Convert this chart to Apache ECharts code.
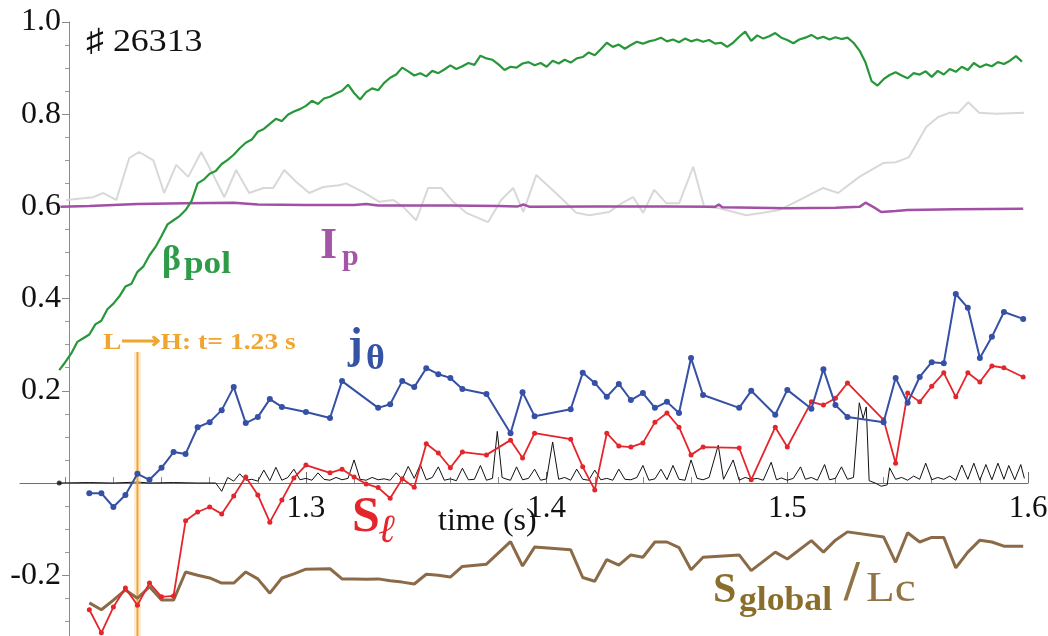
<!DOCTYPE html>
<html>
<head>
<meta charset="utf-8">
<script src="https://cdn.jsdelivr.net/npm/echarts@6.0.0/dist/echarts.min.js"></script>
<style>
  html, body { margin: 0; background: #fff; }
  #chart { width: 1048px; height: 636px; }
</style>
</head>
<body>
<div id="chart"></div>
<script>
// ---- data ----
const X_TICKS = [1.3, 1.4, 1.5, 1.6]
const X_MINOR = [1.2, 1.22, 1.24, 1.26, 1.28, 1.32, 1.34, 1.36, 1.38, 1.42, 1.44, 1.46, 1.48, 1.52, 1.54, 1.56, 1.58]

// beta_pol, sampled every 2.5 ms from 1.1975 s
const BETA_T0 = 1.1975
const BETA_DT = 0.0025
const betaPol = [
  0.245, 0.262, 0.281, 0.306, 0.314, 0.322, 0.344, 0.352, 0.377, 0.389,
  0.405, 0.426, 0.432, 0.458, 0.470, 0.494, 0.512, 0.536, 0.561, 0.570,
  0.579, 0.592, 0.612, 0.650, 0.658, 0.671, 0.677, 0.692, 0.701, 0.712,
  0.726, 0.738, 0.745, 0.762, 0.768, 0.779, 0.790, 0.785, 0.799, 0.806,
  0.811, 0.818, 0.829, 0.822, 0.834, 0.838, 0.845, 0.851, 0.864, 0.846,
  0.832, 0.848, 0.856, 0.852, 0.868, 0.879, 0.886, 0.901, 0.893, 0.884,
  0.889, 0.882, 0.894, 0.889, 0.897, 0.906, 0.898, 0.904, 0.911, 0.907,
  0.927, 0.921, 0.918, 0.908, 0.896, 0.903, 0.901, 0.910, 0.913, 0.906,
  0.911, 0.903, 0.916, 0.910, 0.918, 0.912, 0.921, 0.924, 0.934, 0.928,
  0.941, 0.955, 0.946, 0.951, 0.942, 0.950, 0.957, 0.953, 0.958, 0.961,
  0.966, 0.958, 0.962, 0.956, 0.964, 0.958, 0.962, 0.957, 0.961, 0.953,
  0.955, 0.946, 0.955, 0.968, 0.979, 0.959, 0.971, 0.964, 0.969, 0.976,
  0.966, 0.961, 0.954, 0.962, 0.966, 0.972, 0.964, 0.968, 0.962, 0.967,
  0.963, 0.966, 0.955, 0.938, 0.912, 0.872, 0.862, 0.876, 0.885, 0.891,
  0.884, 0.878, 0.889, 0.886, 0.893, 0.881, 0.894, 0.886, 0.898, 0.892,
  0.903, 0.896, 0.911, 0.902, 0.908, 0.904, 0.913, 0.909, 0.916, 0.926,
  0.914
]

// light grey trace
const greyT = [1.2004, 1.2116, 1.2158, 1.2212, 1.2266, 1.2307, 1.2366, 1.2411, 1.2461, 1.2511,
  1.2565, 1.2615, 1.2661, 1.271, 1.2764, 1.2823, 1.2864, 1.291, 1.296, 1.3014,
  1.3072, 1.3138, 1.3167, 1.3238, 1.3305, 1.3363, 1.3404, 1.3458, 1.3508, 1.3562,
  1.3612, 1.3666, 1.3757, 1.3811, 1.3861, 1.3903, 1.3957, 1.4011, 1.4069, 1.4123,
  1.4177, 1.426, 1.4322, 1.436, 1.4401, 1.4447, 1.4497, 1.4551, 1.4609, 1.4655,
  1.4717, 1.4829, 1.49, 1.4966, 1.5025, 1.5149, 1.5211, 1.5299, 1.5398, 1.5452,
  1.5506, 1.5577, 1.5627, 1.5673, 1.571, 1.5752, 1.5797, 1.5868, 1.5984]
const greyV = [0.614, 0.620, 0.629, 0.614, 0.705, 0.718, 0.700, 0.629, 0.690, 0.664,
  0.718, 0.668, 0.620, 0.679, 0.629, 0.640, 0.640, 0.679, 0.653, 0.629,
  0.642, 0.646, 0.650, 0.631, 0.610, 0.614, 0.599, 0.570, 0.640, 0.640,
  0.610, 0.586, 0.566, 0.614, 0.640, 0.588, 0.668, 0.642, 0.614, 0.586,
  0.581, 0.588, 0.610, 0.620, 0.586, 0.636, 0.607, 0.607, 0.686, 0.599,
  0.596, 0.581, 0.586, 0.592, 0.607, 0.640, 0.629, 0.664, 0.694, 0.696,
  0.707, 0.772, 0.794, 0.803, 0.803, 0.826, 0.803, 0.801, 0.803]

// plasma current Ip
const ipT = [1.198, 1.21, 1.22, 1.23, 1.25, 1.27, 1.28, 1.30, 1.32, 1.325, 1.33, 1.36, 1.38, 1.388,
  1.3905, 1.393, 1.42, 1.45, 1.47, 1.4715, 1.473, 1.50, 1.52, 1.53, 1.5325, 1.536, 1.539,
  1.545, 1.55, 1.57, 1.598]
const ipV = [0.599, 0.601, 0.603, 0.605, 0.607, 0.608, 0.604, 0.603, 0.603, 0.605, 0.602, 0.602, 0.601, 0.600,
  0.604, 0.599, 0.600, 0.600, 0.599, 0.604, 0.598, 0.596, 0.597, 0.599, 0.608, 0.598, 0.588,
  0.590, 0.592, 0.594, 0.595]

// profile times shared by j_theta, S_l and S_global/Lc
const profT = [1.21, 1.215, 1.22, 1.225, 1.23, 1.235, 1.24, 1.245, 1.25, 1.255,
  1.26, 1.265, 1.27, 1.275, 1.28, 1.285, 1.29, 1.295, 1.30, 1.31,
  1.315, 1.32, 1.325, 1.33, 1.335, 1.34, 1.345, 1.35, 1.355, 1.36,
  1.365, 1.375, 1.385, 1.39, 1.395, 1.41, 1.415, 1.42, 1.425, 1.43,
  1.435, 1.44, 1.445, 1.45, 1.455, 1.46, 1.465, 1.48, 1.485, 1.495,
  1.50, 1.51, 1.515, 1.52, 1.525, 1.54, 1.545, 1.55, 1.555, 1.56,
  1.565, 1.57, 1.575, 1.58, 1.585, 1.59, 1.598]
const jTheta = [-0.022, -0.022, -0.052, -0.026, 0.020, 0.007, 0.033, 0.067, 0.063, 0.121,
  0.132, 0.158, 0.208, 0.130, 0.143, 0.182, 0.165, null, 0.154, 0.141,
  0.221, null, null, 0.163, 0.171, 0.221, 0.208, 0.249, 0.236, 0.228,
  0.204, 0.193, 0.108, 0.197, 0.145, 0.160, 0.239, 0.217, 0.187, 0.215,
  0.180, 0.195, 0.163, 0.176, 0.152, 0.271, 0.191, 0.163, 0.200, 0.148,
  0.202, 0.161, 0.247, 0.169, 0.143, 0.132, 0.228, 0.174, 0.230, 0.262,
  0.260, 0.410, 0.380, 0.271, 0.317, 0.371, 0.356]
const sLocal = [-0.275, -0.325, -0.269, -0.228, -0.265, -0.217, -0.247, -0.245, -0.082, -0.063,
  -0.052, -0.067, -0.028, 0.013, -0.026, -0.085, -0.037, 0.011, 0.039, 0.022,
  0.030, 0.013, -0.002, -0.010, -0.033, 0.009, -0.009, 0.085, 0.065, 0.033,
  0.067, 0.061, 0.093, 0.054, 0.108, 0.095, 0.035, -0.015, 0.108, 0.080,
  0.078, 0.087, 0.132, 0.152, 0.121, 0.061, 0.078, 0.076, 0.007, 0.121,
  0.078, 0.176, 0.169, 0.184, 0.217, 0.137, 0.043, 0.195, 0.176, 0.210,
  0.239, 0.187, 0.239, 0.219, 0.254, 0.250, 0.230]
const sGlobal = [-0.260, -0.275, -0.254, -0.232, -0.250, -0.225, -0.254, -0.254, -0.193, -0.200,
  -0.206, -0.217, -0.217, -0.193, -0.208, -0.239, -0.206, -0.197, -0.187, -0.186,
  -0.208, -0.208, -0.209, -0.208, -0.212, -0.215, -0.219, -0.198, -0.200, -0.204,
  -0.181, -0.176, -0.127, -0.180, -0.139, -0.145, -0.205, -0.213, -0.166, -0.178,
  -0.156, -0.161, -0.128, -0.128, -0.140, -0.188, -0.161, -0.156, -0.190, -0.150,
  -0.165, -0.125, -0.150, -0.124, -0.106, -0.117, -0.172, -0.108, -0.128, -0.118,
  -0.118, -0.184, -0.150, -0.124, -0.128, -0.137, -0.137]

// thin black trace near zero
const blackT = [1.1975, 1.21, 1.22, 1.23, 1.235, 1.245, 1.255, 1.2625, 1.265, 1.2675,
  1.27, 1.2725, 1.275, 1.2775, 1.28, 1.2825, 1.285, 1.2875, 1.29, 1.2925,
  1.295, 1.2975, 1.30, 1.3025, 1.305, 1.3075, 1.31, 1.3125, 1.315, 1.3175,
  1.32, 1.3225, 1.325, 1.3275, 1.33, 1.3325, 1.335, 1.3375, 1.34, 1.3425,
  1.345, 1.3475, 1.35, 1.3525, 1.355, 1.3575, 1.36, 1.3625, 1.365, 1.3675,
  1.37, 1.3725, 1.375, 1.3775, 1.3795, 1.3815, 1.3835, 1.385, 1.3875, 1.39,
  1.3925, 1.395, 1.3975, 1.40, 1.4025, 1.405, 1.4075, 1.41, 1.4125, 1.415,
  1.4175, 1.42, 1.4225, 1.425, 1.4275, 1.43, 1.4325, 1.435, 1.4375, 1.44,
  1.4425, 1.445, 1.4475, 1.45, 1.4525, 1.455, 1.4575, 1.46, 1.4625, 1.465,
  1.4675, 1.4713, 1.4735, 1.4775, 1.48, 1.4825, 1.485, 1.4875, 1.49, 1.4933,
  1.4955, 1.4975, 1.50, 1.5025, 1.5055, 1.5075, 1.51, 1.5125, 1.5155, 1.5175,
  1.52, 1.5225, 1.525, 1.5275, 1.5299, 1.5315, 1.5328, 1.534, 1.5365, 1.539,
  1.5415, 1.5425, 1.545, 1.5475, 1.55, 1.5525, 1.555, 1.5575, 1.56, 1.5625,
  1.565, 1.5675, 1.57, 1.5725, 1.575, 1.5775, 1.58, 1.5825, 1.585, 1.5875,
  1.59, 1.592, 1.5945, 1.597, 1.5985]
const blackV = [0.0, 0.001, 0.0, 0.002, 0.0, 0.001, 0.0, 0.0, -0.018, 0.012,
  0.004, 0.020, 0.006, 0.008, 0.004, 0.028, 0.005, 0.034, 0.006, 0.012,
  0.030, 0.007, 0.010, 0.006, 0.022, 0.008, 0.006, 0.012, 0.007, 0.010,
  0.050, 0.008, 0.006, 0.012, 0.007, 0.009, 0.006, 0.022, 0.008, 0.036,
  0.010, 0.040, 0.007, 0.012, 0.035, 0.006, 0.009, 0.005, 0.032, 0.007,
  0.008, 0.038, 0.006, 0.010, 0.112, 0.012, 0.008, 0.006, 0.035, 0.007,
  0.010, 0.030, 0.006, 0.009, 0.089, 0.008, 0.012, 0.006, 0.030, 0.008,
  0.006, 0.028, 0.007, 0.010, 0.006, 0.030, 0.008, 0.007, 0.012, 0.038,
  0.006, 0.009, 0.030, 0.007, 0.038, 0.008, 0.006, 0.050, 0.010, 0.007,
  0.012, 0.082, 0.008, 0.050, 0.006, 0.012, 0.008, 0.010, 0.006, 0.045,
  0.007, 0.011, 0.006, 0.010, 0.035, 0.008, 0.012, 0.006, 0.040, 0.007,
  0.010, 0.035, 0.008, 0.012, 0.174, 0.140, 0.165, 0.005, 0.0, -0.007,
  -0.004, 0.033, 0.008, 0.012, 0.006, 0.015, 0.008, 0.043, 0.007, 0.012,
  0.008, 0.015, 0.006, 0.039, 0.008, 0.043, 0.006, 0.040, 0.007, 0.043,
  0.008, 0.038, 0.007, 0.040, 0.010]

const LH_TIME = 1.23
const LH_TOP = 0.284

// ---- chart ----
const FONT = '"Liberation Serif", "Times New Roman", serif'
const zip = (ts, vs) => ts.map((t, i) => [t, vs[i]])
const betaT = betaPol.map((_, i) => +(BETA_T0 + i * BETA_DT).toFixed(4))

function label(x, y, text, size, color, weight, style, sx) {
  return {
    type: 'text', x, y, silent: true, z: 100, scaleX: sx || 1,
    style: {
      text, fill: color,
      font: `${style || 'normal'} ${weight || 'normal'} ${size}px ${FONT}`,
      align: 'left', verticalAlign: 'middle'
    }
  }
}

const chart = echarts.init(document.getElementById('chart'), null, { renderer: 'canvas' })

const xMin = 1.1812, xMax = 1.6
// grid spans y from 22 (1.0) to 667.4 (-0.4); the x axis sits at y = 0 (483px),
// so x labels need pulling up from the grid bottom
const X_LABEL_PULL = 667.4 - 483

chart.setOption({
  animation: false,
  backgroundColor: '#fff',
  grid: { left: 20, right: 20, top: 22, bottom: -31.4, outerBoundsMode: 'none', containLabel: false },
  xAxis: [
    {
      type: 'value', min: xMin, max: xMax,
      axisLine: { onZero: true, lineStyle: { color: '#6e6e6e', width: 1 } },
      axisTick: { customValues: X_TICKS, inside: true, length: 11, lineStyle: { color: '#6e6e6e' } },
      axisLabel: {
        customValues: X_TICKS, margin: 10 - X_LABEL_PULL, color: '#111', fontFamily: FONT, fontSize: 31,
        formatter: (v) => v.toFixed(1)
      },
      splitLine: { show: false }
    },
    {
      type: 'value', min: xMin, max: xMax, position: 'bottom',
      axisLine: { show: false, onZero: true, onZeroAxisIndex: 0 },
      axisTick: { customValues: X_MINOR, inside: true, length: 6, lineStyle: { color: '#8a8a8a' } },
      axisLabel: { show: false },
      splitLine: { show: false }
    }
  ],
  yAxis: {
    type: 'value', min: -0.4, max: 1.0, interval: 0.2, offset: -49,
    axisLine: { show: true, lineStyle: { color: '#8a8a8a', width: 1 } },
    axisTick: { show: true, length: 7, lineStyle: { color: '#8a8a8a' } },
    minorTick: { show: true, splitNumber: 4, length: 4, lineStyle: { color: '#9a9a9a' } },
    axisLabel: {
      margin: 8, color: '#111', fontFamily: FONT, fontSize: 32,
      formatter: (v) => (Math.abs(v) < 1e-9 ? '' : v.toFixed(1))
    },
    splitLine: { show: false }
  },
  series: [
    { name: 'grey', type: 'line', data: zip(greyT, greyV), showSymbol: false,
      lineStyle: { color: '#d8d8d8', width: 2 }, z: 1 },
    { name: 'Ip', type: 'line', data: zip(ipT, ipV), showSymbol: false,
      lineStyle: { color: '#a24fa6', width: 2.5 }, z: 2 },
    { name: 'beta_pol', type: 'line', data: zip(betaT, betaPol), showSymbol: false,
      lineStyle: { color: '#27973a', width: 2.2 }, z: 3 },
    { name: 'black', type: 'line', data: zip(blackT, blackV), showSymbol: false,
      lineStyle: { color: '#111', width: 1 }, z: 4 },
    { name: 'start', type: 'scatter', data: [[blackT[0], blackV[0]]], symbolSize: 5,
      itemStyle: { color: '#111' }, z: 4 },
    { name: 'L-H glow', type: 'line', data: [[LH_TIME, LH_TOP], [LH_TIME, -0.4]], showSymbol: false,
      lineStyle: { color: '#f6c98a', width: 7, opacity: 0.35 }, z: 5 },
    { name: 'L-H', type: 'line', data: [[LH_TIME, LH_TOP], [LH_TIME, -0.4]], showSymbol: false,
      lineStyle: { color: '#f0a531', width: 2 }, z: 6 },
    { name: 'S_global/Lc', type: 'line', data: zip(profT, sGlobal), showSymbol: false,
      lineStyle: { color: '#8b6b47', width: 3 }, z: 7 },
    { name: 'S_l', type: 'line', data: zip(profT, sLocal), connectNulls: true,
      showSymbol: true, showAllSymbol: true, symbol: 'circle', symbolSize: 5,
      itemStyle: { color: '#e4262c' }, lineStyle: { color: '#e4262c', width: 1.8 }, z: 8 },
    { name: 'j_theta', type: 'line', data: zip(profT, jTheta), connectNulls: true,
      showSymbol: true, showAllSymbol: true, symbol: 'circle', symbolSize: 6,
      itemStyle: { color: '#3550a5' }, lineStyle: { color: '#3550a5', width: 2 }, z: 9 }
  ],
  graphic: [
    label(86, 43, '\u266F 26313', 32, '#111', 'normal', 'normal', 1.12),
    label(103, 343, 'L\u27F6H: t= 1.23 s', 24, '#f0a531', 'bold', 'normal', 1.15),
    label(162, 261, '\u03B2', 36, '#2e9b48', 'bold'),
    label(184, 265, 'pol', 32, '#2e9b48', 'bold', 'normal', 1.1),
    label(320, 247, 'I', 44, '#a455a6', 'bold'),
    label(342, 257, 'p', 30, '#a455a6', 'bold'),
    label(348, 347, 'j', 44, '#3553a5', 'bold'),
    label(366, 360, '\u03B8', 36, '#3553a5', 'bold'),
    label(352, 518, 'S', 50, '#e4262c', 'bold'),
    label(379, 532, '\u2113', 40, '#e4262c', 'bold', 'italic'),
    label(438, 522, 'time (s)', 32, '#111'),
    label(713, 591, 'S', 42, '#8a6e2c', 'bold'),
    label(739, 601, 'global', 33, '#8a6e2c', 'bold', 'normal', 1.08),
    label(844, 586, '/', 56, '#917443', 'bold'),
    label(866, 590, 'Lc', 42, '#917443', 'normal', 'normal', 1.12)
  ]
})
</script>
</body>
</html>
